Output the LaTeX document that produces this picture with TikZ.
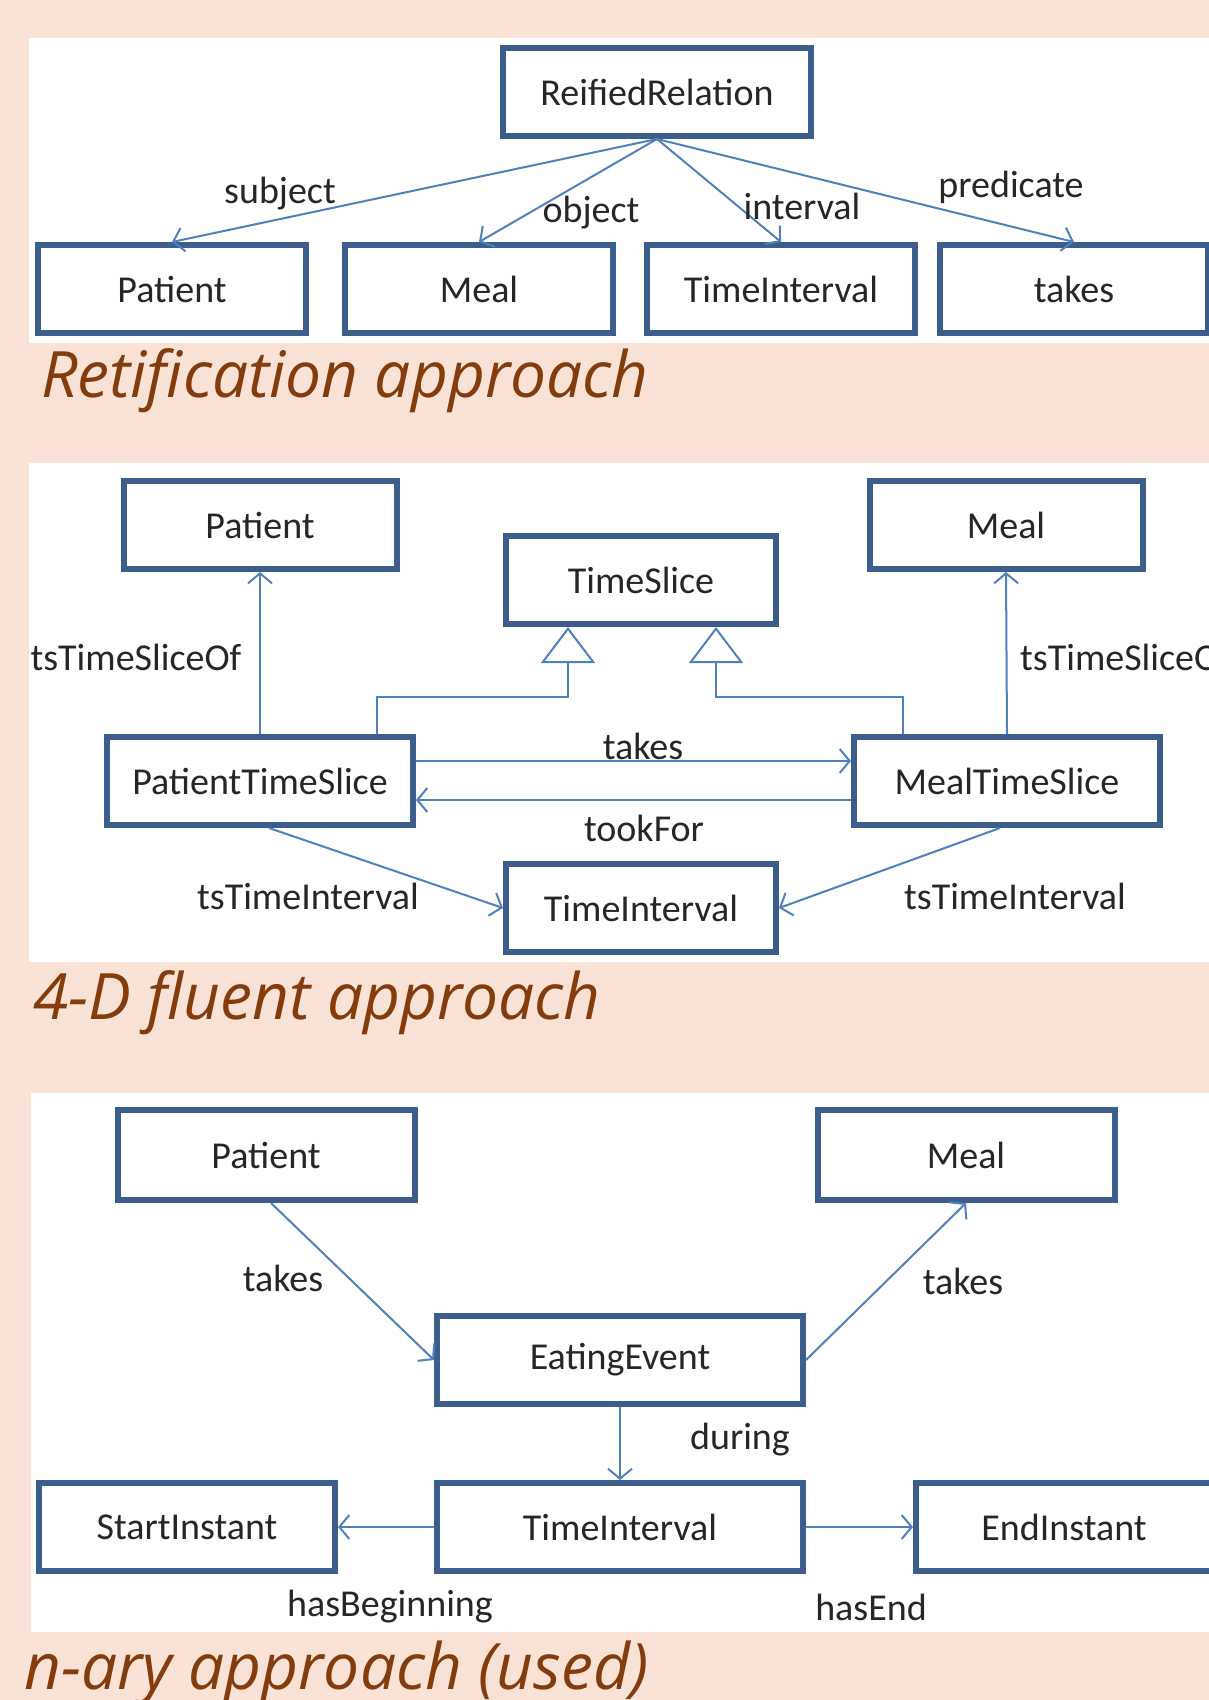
\documentclass[tikz,border=0pt]{standalone}
\usepackage{fontspec}
\setmainfont{Carlito}
\newfontfamily\capfont{Open Sans}
\usepackage{xcolor}
\usepackage{tikz}
\usetikzlibrary{arrows.meta, positioning, calc}
\definecolor{peach}{HTML}{FAE3D6}
\definecolor{boxblue}{HTML}{3C5E8C}
\definecolor{lineblue}{HTML}{4F81BD}
\definecolor{capbrown}{HTML}{843C0C}

\begin{document}
\begin{tikzpicture}[
    x=1pt, y=-1pt,
    font=\fontsize{38}{42}\selectfont,
    box/.style={draw=boxblue, line width=6pt, fill=white, minimum height=88pt, inner sep=0pt, text=black!85},
    arrow/.style={-{Straight Barb[length=10pt, width=24pt]}, draw=lineblue, line width=2pt},
    gen/.style={-{Triangle[open, length=36pt, width=54pt]}, draw=lineblue, line width=2pt},
    lbl/.style={inner sep=0pt, text=black!85},
    caption/.style={anchor=base west, inner sep=0pt, text=capbrown, font=\capfont\itshape\fontsize{64}{70}\selectfont}
]

% Background and panels
\fill[peach] (0,0) rectangle (1209,1700);
\useasboundingbox (0,0) rectangle (1209,1700);
\fill[white] (29,38) rectangle (1209,343);
\fill[white] (29,463) rectangle (1209,962);
\fill[white] (31,1093) rectangle (1209,1632);

% Reification nodes
\node[box, minimum width=308pt] (rr) at (657,92) {ReifiedRelation};
\node[box, minimum width=268pt] (rpatient) at (172,289) {Patient};
\node[box, minimum width=268pt] (rmeal) at (479,289) {Meal};
\node[box, minimum width=268pt] (rinterval) at (781,289) {TimeInterval};
\node[box, minimum width=268pt] (rtakes) at (1074,289) {takes};

% Reification edges
\draw[arrow] (rr.south) -- (rpatient.north);
\draw[arrow] (rr.south) -- (rmeal.north);
\draw[arrow] (rr.south) -- (rinterval.north);
\draw[arrow] (rr.south) -- (rtakes.north);
\node[lbl] (lsubject) at (280,194) {subject};
\node[lbl] (lobject) at (591,213) {object};
\node[lbl] (linterval) at (802,206) {interval};
\node[lbl] (lpredicate) at (1011,187) {predicate};
\node[caption] (cap1) at (41,397) {Retification approach};

% 4-D fluent nodes
\node[box, minimum width=273pt] (fpatient) at (260,525) {Patient};
\node[box, minimum width=273pt] (fmeal) at (1006,525) {Meal};
\node[box, minimum width=270pt] (fslice) at (641,580) {TimeSlice};
\node[box, minimum width=306pt] (pts) at (260,781) {PatientTimeSlice};
\node[box, minimum width=306pt] (mts) at (1007,781) {MealTimeSlice};
\node[box, minimum width=270pt] (finterval) at (641,908) {TimeInterval};

% 4-D fluent edges
\draw[arrow] (pts.north) -- (fpatient.south);
\draw[arrow] (mts.north) -- (fmeal.south);
\draw[gen] ([xshift=117pt]pts.north) -- ++(0,-37) -| ([xshift=-73pt]fslice.south);
\draw[gen] ([xshift=-104pt]mts.north) -- ++(0,-37) -| ([xshift=75pt]fslice.south);
\draw[arrow] ([yshift=20pt]pts.east) -- ([yshift=20pt]mts.west);
\draw[arrow] ([yshift=-19pt]mts.west) -- ([yshift=-19pt]pts.east);
\draw[arrow] ([xshift=9pt]pts.south) -- (finterval.west);
\draw[arrow] ([xshift=-7pt]mts.south) -- (finterval.east);
\node[lbl] (lofleft) at (136,657) {tsTimeSliceOf};
\node[lbl, anchor=west] (lofright) at (1020,657) {tsTimeSliceOf};
\node[lbl] (ltakes) at (643,746) {takes};
\node[lbl] (ltookfor) at (644,828) {tookFor};
\node[lbl] (ltileft) at (308,896) {tsTimeInterval};
\node[lbl] (ltiright) at (1015,896) {tsTimeInterval};
\node[caption] (cap2) at (33,1019) {4-D fluent approach};

% n-ary nodes
\node[box, minimum width=297pt, minimum height=90pt] (npatient) at (266,1155) {Patient};
\node[box, minimum width=297pt, minimum height=90pt] (nmeal) at (966,1155) {Meal};
\node[box, minimum width=366pt] (event) at (620,1360) {EatingEvent};
\node[box, minimum width=366pt] (ninterval) at (620,1527) {TimeInterval};
\node[box, minimum width=296pt] (start) at (187,1527) {StartInstant};
\node[box, minimum width=296pt] (end) at (1064,1527) {EndInstant};

% n-ary edges
\draw[arrow] ([xshift=5pt]npatient.south) -- (event.west);
\draw[arrow] (event.east) -- (nmeal.south);
\draw[arrow] (event.south) -- (ninterval.north);
\draw[arrow] (ninterval.west) -- (start.east);
\draw[arrow] (ninterval.east) -- (end.west);
\node[lbl] (ltakesl) at (283,1278) {takes};
\node[lbl] (ltakesr) at (963,1281) {takes};
\node[lbl] (lduring) at (740,1440) {during};
\node[lbl] (lbegin) at (390,1607) {hasBeginning};
\node[lbl] (lend) at (871,1607) {hasEnd};
\node[caption] (cap3) at (24,1689) {n-ary approach (used)};

\end{tikzpicture}
\end{document}
